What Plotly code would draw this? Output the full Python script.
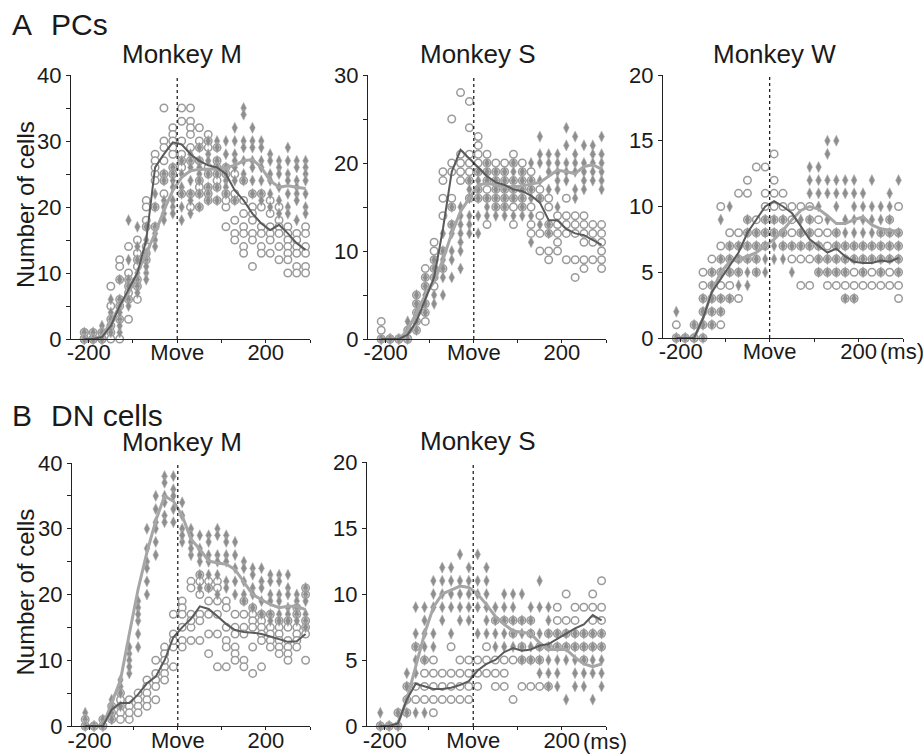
import plotly.graph_objects as go

W, H = 923, 755

# time-bin centres (ms relative to movement onset)
bins = [-210, -190, -170, -150, -130, -110, -90, -70, -50, -30, -10, 10, 30,
        50, 70, 90, 110, 130, 150, 170, 190, 210, 230, 250, 270, 290]

# ---------------- A  PCs, Monkey M ----------------
am_circ = [[0, 0, 1, 0, 0, 1], [0, 0, 0, 0, 1, 0], [0, 0, 1, 0, 1, 0], [8, 3, 1, 0, 5, 2],
           [12, 11, 5, 0, 3, 6, 9], [14, 10, 9, 6, 3, 8, 7], [15, 13, 12, 11, 6, 8, 9],
           [21, 20, 18, 17, 14, 13, 12], [28, 27, 25, 24, 26, 20, 17], [35, 30, 29, 27, 25, 24, 22],
           [32, 31, 30, 29, 28, 26, 25], [35, 33, 30, 28, 27, 26, 22], [35, 33, 32, 31, 29, 27, 22, 20],
           [32, 30, 29, 27, 24, 23, 22, 20], [31, 30, 29, 26, 25, 23, 22, 21], [29, 27, 26, 25, 24, 23, 21],
           [26, 25, 22, 20, 17, 21], [25, 22, 21, 18, 16, 15], [24, 21, 19, 17, 16, 14, 13],
           [22, 20, 19, 18, 16, 15, 11], [22, 20, 17, 16, 14, 13], [21, 19, 17, 16, 15, 13],
           [20, 18, 17, 16, 14, 12], [17, 16, 15, 14, 13, 12, 10], [16, 15, 14, 13, 11, 10],
           [17, 16, 14, 13, 11, 10]]
am_diam = [[0, 1, 0, 0], [0, 0, 1, 0], [1, 0, 0, 2, 1], [6, 4, 2, 1, 3], [6, 9, 5, 3, 1, 2, 4],
           [18, 12, 9, 8, 6, 5], [17, 14, 12, 10, 9, 8, 7], [17, 15, 12, 10, 9, 11, 13],
           [22, 20, 17, 16, 15, 14], [25, 24, 21, 20, 19, 18], [26, 25, 24, 23, 21, 20, 19],
           [27, 25, 23, 22, 20, 18], [28, 27, 26, 24, 22, 21, 19], [29, 27, 26, 25, 24, 22, 20],
           [30, 28, 27, 25, 23, 22, 21], [30, 29, 27, 26, 25, 23, 21], [30, 28, 26, 25, 24, 23, 22],
           [32, 30, 28, 27, 26, 24, 21], [35, 34, 30, 29, 27, 25, 24], [32, 30, 29, 27, 26, 24, 22],
           [30, 29, 27, 26, 24, 22, 21], [28, 27, 25, 24, 22, 20], [27, 26, 25, 23, 21, 19],
           [29, 27, 25, 24, 22, 20, 19], [27, 26, 24, 23, 22, 21, 18], [27, 26, 25, 24, 22, 20, 19]]
am_circ_line = [0, 0, 0.3, 2, 5, 7.5, 10, 15, 26, 28, 29.8, 29.5, 28, 27, 26.3, 26, 25, 22.5,
                21, 19, 17.5, 16.5, 17.3, 16, 14.5, 13.5]
am_diam_line = [0, 0, 0.5, 2.5, 5, 7, 10, 13, 16, 19.5, 22.5, 24.5, 25.5, 25.7, 25.7, 25.8, 26,
                26.3, 27, 27.2, 26, 24, 23, 23.2, 23, 22.8]

# ---------------- A  PCs, Monkey S ----------------
as_circ = [[2, 1, 0, 0], [0, 0, 0], [0, 0, 0], [1, 0, 0, 0], [2, 1, 3, 4, 5], [8, 6, 4, 3, 2, 7],
           [11, 10, 9, 7, 6, 8], [19, 18, 16, 14, 10, 8], [25, 20, 19, 16, 13, 15], [28, 20, 19, 18, 21],
           [27, 24, 21, 20, 19, 18, 16], [23, 22, 21, 20, 19, 17, 16], [21, 20, 19, 18, 17, 16, 13],
           [20, 19, 18, 17, 16, 15], [20, 19, 18, 17, 16, 15], [21, 20, 18, 17, 16, 15, 13],
           [20, 19, 18, 17, 16, 15], [19, 18, 17, 15, 13, 12], [17, 16, 14, 12, 10],
           [16, 15, 13, 12, 10, 9], [14, 13, 12, 11, 10], [16, 14, 13, 12, 9], [14, 13, 12, 9, 7],
           [14, 13, 12, 11, 9, 8], [13, 12, 11, 9], [13, 12, 11, 10, 9, 8]]
as_diam = [[0, 0, 0], [0, 0, 0], [0, 0], [1, 2, 0], [2, 3, 4, 5, 1], [5, 6, 7, 3, 4], [9, 8, 7, 5, 4],
           [12, 10, 9, 8, 7, 5], [15, 13, 12, 10, 9, 7], [15, 14, 13, 12, 11, 10, 8],
           [18, 17, 16, 14, 13, 12], [19, 18, 17, 16, 14, 12], [20, 19, 18, 16, 15, 14],
           [19, 18, 17, 16, 15, 14], [19, 18, 17, 16, 15, 14], [20, 19, 18, 17, 16, 14],
           [19, 18, 17, 16, 15, 14], [20, 18, 17, 16, 14, 11], [23, 21, 20, 18, 16, 13],
           [21, 20, 19, 17, 13, 12], [21, 20, 19, 18, 17, 15], [24, 22, 20, 19, 18],
           [23, 21, 20, 19, 17, 16], [22, 20, 19, 18, 17], [22, 21, 20, 19, 18], [23, 21, 20, 19, 18, 17]]
as_circ_line = [0, 0, 0, 0.5, 2, 4.5, 7, 12.5, 19, 21.5, 20.5, 19.5, 18.5, 17.8, 17.5, 17, 16.8,
                16.3, 15.5, 13.5, 13.5, 12.5, 12, 11.8, 11.2, 10.7]
as_diam_line = [0, 0, 0, 1, 3, 5, 6.5, 9, 12, 14.5, 16, 17.5, 17.7, 17.5, 17.3, 17.3, 17.4, 17.6,
                17.8, 18.5, 19.2, 19, 18.8, 19.6, 19.8, 19.3]

# ---------------- A  PCs, Monkey W ----------------
aw_circ = [[1, 0, 0], [0, 0], [1, 0, 0], [5, 4, 3, 2, 1, 0], [6, 5, 4, 3, 2, 1],
           [10, 7, 6, 5, 4, 3, 2, 1], [8, 7, 6, 5, 4, 3], [11, 8, 7, 6, 5, 3], [12, 11, 9, 8, 7, 6],
           [13, 9, 8, 7, 6, 5], [13, 11, 10, 9, 8, 7], [14, 12, 11, 10, 9, 8], [11, 10, 9, 8, 7],
           [10, 9, 8, 7, 6], [10, 8, 7, 6, 4], [10, 9, 8, 7, 6, 4], [9, 8, 7, 6, 5], [8, 7, 6, 5, 4],
           [8, 7, 6, 5, 4], [7, 6, 5, 4, 3], [7, 6, 5, 4, 3], [7, 6, 5, 4], [7, 6, 5, 4],
           [8, 7, 6, 5, 4], [9, 8, 7, 6, 5, 4], [10, 8, 7, 6, 5, 4, 3]]
aw_diam = [[2, 0, 0], [0, 0], [0, 1], [3, 2, 1, 0], [5, 4, 3, 2, 1], [9, 6, 5, 3, 2], [10, 7, 6, 5, 3],
           [7, 6, 5, 4], [9, 8, 7, 6, 5, 4], [8, 7, 6, 5], [9, 8, 7, 6, 5], [9, 8, 7, 6], [9, 8, 7, 6],
           [7, 5], [9, 8, 7], [13, 12, 11, 9, 8, 7], [13, 12, 11, 10, 7, 6, 5], [15, 14, 12, 11, 9, 6, 5],
           [15, 12, 11, 10, 8, 7, 6, 5], [12, 11, 9, 8, 7, 6, 5, 3], [12, 11, 10, 9, 8, 7, 6, 3],
           [11, 10, 9, 8, 7, 6, 5], [12, 10, 9, 8, 7, 6], [10, 9, 8, 7, 6, 5], [11, 10, 9, 8, 7, 6],
           [12, 8, 7, 6, 5]]
aw_circ_line = [0, 0, 0, 1.5, 3.5, 4.5, 5.5, 6.5, 8, 9, 10, 10.4, 10, 9.5, 8.5, 7.5, 7, 6.5, 6.8,
                6.2, 5.8, 5.7, 5.7, 5.9, 5.8, 6.1]
aw_diam_line = [0, 0, 0, 1.5, 3.5, 5, 5.8, 6, 6.2, 6.5, 7, 7.5, 8.2, 9, 9.7, 10, 9.8, 9.3, 8.7, 8.7,
                9, 9.2, 8.6, 8.3, 8.2, 8.1]

# ---------------- B  DN cells, Monkey M ----------------
bm_circ = [[0, 0, 1], [0, 0], [0, 1, 0], [2, 1, 3], [4, 3, 2, 1, 5], [4, 3, 1, 2], [5, 4, 3, 2],
           [7, 6, 5, 4, 3], [10, 8, 7, 6, 4], [12, 11, 9, 8, 7, 10], [17, 14, 12, 9, 13],
           [19, 18, 17, 15, 13, 12], [22, 21, 17, 15, 13, 16], [23, 22, 20, 17, 16, 13],
           [22, 21, 19, 17, 11, 14], [22, 21, 19, 17, 14, 9], [19, 18, 15, 13, 12, 9],
           [17, 15, 14, 12, 11, 10], [19, 17, 15, 14, 10, 9], [18, 17, 16, 15, 12, 8],
           [17, 16, 15, 14, 13, 9], [17, 15, 14, 13, 12], [16, 15, 14, 13, 12, 11],
           [16, 15, 13, 12, 11, 10], [18, 17, 15, 14, 13, 12], [21, 20, 16, 15, 14, 10]]
bm_diam = [[2, 1, 0, 0], [0, 0], [1, 0, 0], [4, 2, 1, 3], [6, 5, 3, 7], [11, 10, 8, 12, 9],
           [19, 18, 16, 12, 14, 17], [30, 27, 25, 22, 20, 24], [35, 33, 31, 30, 28, 26],
           [38, 37, 35, 34, 32, 31], [38, 36, 35, 33, 31], [34, 32, 30, 28, 29], [30, 29, 28, 26, 27],
           [29, 27, 26, 25, 23, 21], [29, 28, 26, 25, 23, 21], [30, 29, 26, 25, 23, 20],
           [29, 28, 26, 25, 22, 21], [28, 26, 24, 22, 20], [25, 24, 22, 20, 19], [24, 23, 21, 20, 18],
           [24, 22, 21, 19, 17], [23, 22, 20, 19, 17, 16], [23, 22, 20, 19, 17, 16],
           [23, 21, 20, 18, 17, 16], [20, 19, 18, 17, 16], [21, 20, 19, 17, 16, 15]]
bm_circ_line = [0, 0, 0, 2.5, 3.5, 3.5, 4.8, 6.5, 7.5, 10, 13.5, 15, 16.3, 18.2, 17.8, 16.7, 15.5,
                14.6, 14.3, 14.2, 14, 13.6, 13.2, 12.8, 12.9, 14]
bm_diam_line = [0, 0, 0, 3.5, 7, 14, 20.8, 26.4, 31.2, 35, 34.2, 32, 28.4, 26.9, 25.1, 24.8, 24.6,
                23.8, 21.8, 20, 19.2, 18.5, 18, 18.2, 18.2, 17.7]

# ---------------- B  DN cells, Monkey S ----------------
bs_circ = [[0, 0], [0, 0], [0, 1], [1, 2, 3], [6, 3, 2], [5, 4, 3, 2], [5, 4, 3, 2, 1], [4, 3, 2],
           [6, 4, 3, 2], [5, 4, 3, 2], [5, 4, 3, 2], [5, 4, 3], [6, 5, 4], [8, 5, 4, 3], [8, 5, 4, 3],
           [8, 7, 5, 2], [8, 6, 5, 3], [8, 7, 5, 3], [6, 5, 3], [7, 6, 3], [9, 8, 7, 6], [10, 8, 7, 6],
           [9, 8, 7, 6], [9, 7, 6, 5], [10, 9, 8, 7, 6], [11, 9, 8, 7, 6]]
bs_diam = [[1, 0, 0], [0, 0], [1, 0, 0], [4, 3, 2, 1], [9, 7, 6, 5, 4, 1], [9, 8, 7, 6, 5, 1],
           [11, 10, 9, 7, 6], [12, 11, 10, 9, 8], [12, 11, 10, 9, 7], [13, 11, 10, 9, 8],
           [12, 11, 10, 9, 8], [13, 11, 10, 9, 7], [12, 11, 10, 9, 8, 7], [9, 8, 7, 6],
           [10, 9, 8, 7, 6], [10, 9, 8, 7, 6], [10, 8, 7, 6, 5], [9, 8, 7, 6, 5], [11, 9, 7, 6, 5, 4],
           [9, 8, 7, 6, 5, 4, 3], [7, 6, 5, 4, 3], [7, 6, 5, 2], [7, 6, 5, 4, 3], [7, 6, 5, 4, 3],
           [7, 6, 5, 4, 2], [7, 6, 5, 4, 3]]
bs_circ_line = [0, 0, 0.2, 2, 3.2, 3, 2.8, 2.8, 2.9, 3.1, 3.4, 4.2, 4.7, 5, 5.6, 5.9, 5.7, 5.8, 6.1,
                6.2, 6.6, 7, 7.4, 7.7, 8.4, 8]
bs_diam_line = [0, 0, 0.2, 2, 4.5, 7, 9, 10, 10.3, 10.6, 10.5, 10, 9.2, 8.3, 7.7, 7.2, 7.1, 7, 6.3,
                5.8, 5.8, 5.8, 5.2, 4.7, 4.5, 4.7]

# ---------------- layout of panels (pixel boxes) ----------------
FONT = "Liberation Sans, Arial, Helvetica, sans-serif"
TXT = "#1a1a1a"
CIRC_EDGE = "#9a9a9a"
DIAM_FILL = "#8e8e8e"
CIRC_LINE = "#5a5a5a"
DIAM_LINE = "#a6a6a6"

panels = [
    dict(title="Monkey M", circ=am_circ, diam=am_diam, cl=am_circ_line, dl=am_diam_line,
         box=(71, 310, 75, 339), ymax=40, ylab=True, ms=False, xstand=-10),
    dict(title="Monkey S", circ=as_circ, diam=as_diam, cl=as_circ_line, dl=as_diam_line,
         box=(368, 606, 75, 339), ymax=30, ylab=False, ms=False, xstand=-10),
    dict(title="Monkey W", circ=aw_circ, diam=aw_diam, cl=aw_circ_line, dl=aw_diam_line,
         box=(663, 903, 75, 338), ymax=20, ylab=False, ms=True, xstand=-10),
    dict(title="Monkey M", circ=bm_circ, diam=bm_diam, cl=bm_circ_line, dl=bm_diam_line,
         box=(72, 310, 463, 726), ymax=40, ylab=True, ms=False, xstand=-9),
    dict(title="Monkey S", circ=bs_circ, diam=bs_diam, cl=bs_circ_line, dl=bs_diam_line,
         box=(367, 606, 462, 726), ymax=20, ylab=False, ms=True, xstand=-9),
]

fig = go.Figure()
annotations = []
shapes = []
layout = {}


def expand(groups):
    xs, ys = [], []
    for t, vals in zip(bins, groups):
        for v in vals:
            xs.append(t)
            ys.append(v)
    return xs, ys


for i, p in enumerate(panels):
    n = i + 1
    xa = "x" if n == 1 else f"x{n}"
    ya = "y" if n == 1 else f"y{n}"
    xkey = "xaxis" if n == 1 else f"xaxis{n}"
    ykey = "yaxis" if n == 1 else f"yaxis{n}"
    x0, x1, y0, y1 = p["box"]

    cx, cy = expand(p["circ"])
    dx, dy = expand(p["diam"])
    fig.add_trace(go.Scatter(x=cx, y=cy, mode="markers", xaxis=xa, yaxis=ya, cliponaxis=False,
                             marker=dict(symbol="circle", size=7.5, color="white",
                                         line=dict(color=CIRC_EDGE, width=1.5)),
                             showlegend=False, hoverinfo="x+y"))
    fig.add_trace(go.Scatter(x=dx, y=dy, mode="markers", xaxis=xa, yaxis=ya, cliponaxis=False,
                             marker=dict(symbol="diamond-tall", size=8, color=DIAM_FILL,
                                         line=dict(color="#b4b4b4", width=0.6)),
                             showlegend=False, hoverinfo="x+y"))
    fig.add_trace(go.Scatter(x=bins, y=p["dl"], mode="lines", xaxis=xa, yaxis=ya, cliponaxis=False,
                             line=dict(color=DIAM_LINE, width=3), showlegend=False))
    fig.add_trace(go.Scatter(x=bins, y=p["cl"], mode="lines", xaxis=xa, yaxis=ya, cliponaxis=False,
                             line=dict(color=CIRC_LINE, width=2), showlegend=False))

    ymax = p["ymax"]
    yvals = list(range(0, ymax + 1, 5))
    if ymax > 20:
        ytext = [str(v) if v % 10 == 0 else "" for v in yvals]
    else:
        ytext = [str(v) for v in yvals]

    layout[xkey] = dict(domain=[x0 / W, x1 / W], range=[-240, 300], anchor=ya, automargin=False,
                        showgrid=False, zeroline=False, showline=True, linecolor="#222",
                        linewidth=1.2, ticks="outside", ticklen=3, tickcolor="#222",
                        tickvals=[-200, -100, 0, 100, 200, 300],
                        ticktext=["-200", "", "Move", "", "200", ""],
                        ticklabelstandoff=p["xstand"],
                        tickfont=dict(family=FONT, size=22, color=TXT), fixedrange=True)
    layout[ykey] = dict(domain=[1 - y1 / H, 1 - y0 / H], range=[0, ymax], anchor=xa, automargin=False,
                        showgrid=False, zeroline=False, showline=True, linecolor="#222",
                        linewidth=1.2, ticks="outside", ticklen=4, tickcolor="#222",
                        tickvals=yvals, ticktext=ytext,
                        tickfont=dict(family=FONT, size=22, color=TXT), fixedrange=True)
    if p["ylab"]:
        annotations.append(dict(text="Number of cells", xref="paper", yref="paper",
                                x=25 / W, y=1 - ((y0 + y1) / 2 - 2) / H, textangle=-90,
                                xanchor="center", yanchor="middle", showarrow=False,
                                font=dict(family=FONT, size=24, color=TXT)))

    shapes.append(dict(type="line", xref=xa, yref=ya, x0=0, x1=0, y0=0, y1=ymax,
                       line=dict(color="#111", width=1.2, dash="dot")))
    annotations.append(dict(text=p["title"], xref=xa, yref="paper", x=10,
                            y=1 - (y0 - 21) / H, xanchor="center", yanchor="middle",
                            showarrow=False, font=dict(family=FONT, size=26, color=TXT)))
    if p["ms"]:
        row_off = 13 if y1 < 400 else 15
        annotations.append(dict(text="(ms)", xref="paper", yref="paper", x=(x1 - 25) / W,
                                y=1 - (y1 + row_off) / H, xanchor="left", yanchor="middle",
                                showarrow=False, font=dict(family=FONT, size=22, color=TXT)))

# panel letters
for letter, rest, ytop in [("A", "PCs", 24), ("B", "DN cells", 415)]:
    annotations.append(dict(text=letter, xref="paper", yref="paper", x=10 / W, y=1 - ytop / H,
                            xanchor="left", yanchor="middle", showarrow=False,
                            font=dict(family=FONT, size=30, color=TXT)))
    annotations.append(dict(text=rest, xref="paper", yref="paper", x=49 / W, y=1 - ytop / H,
                            xanchor="left", yanchor="middle", showarrow=False,
                            font=dict(family=FONT, size=30, color=TXT)))

fig.update_layout(width=W, height=H, autosize=False, margin=dict(l=0, r=0, t=0, b=0),
                  paper_bgcolor="white", plot_bgcolor="white", showlegend=False,
                  annotations=annotations, shapes=shapes, **layout)

fig.write_html("out.html")
